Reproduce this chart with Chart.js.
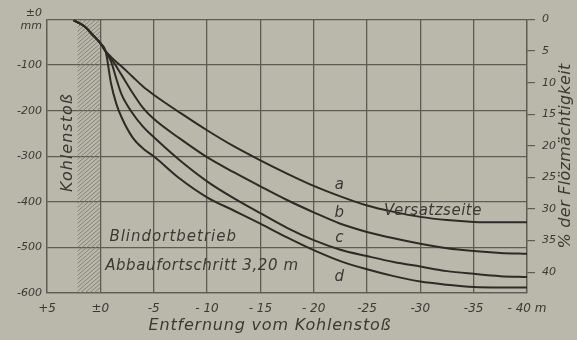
<!DOCTYPE html>
<html>
<head>
<meta charset="utf-8">
<script src="https://cdn.jsdelivr.net/npm/chart.js@4.4.0/dist/chart.umd.min.js"></script>
<style>
  html, body { margin: 0; padding: 0; background: #bab8aa; }
  canvas { display: block; }
</style>
</head>
<body>
<canvas id="chart" width="577" height="340"></canvas>
<script>
// Entfernung vom Kohlenstoß (m), shared by all four curves
const distances = [2.5, 1.5, 0.75, 0, -0.5, -1, -1.5, -2, -3, -4, -5, -7.5, -10, -12.5, -15, -17.5, -20, -22.5, -25, -27.5, -30, -32.5, -35, -37.5, -40];

// Senkung in mm
const curveA = [-2, -15, -33, -52, -70, -82, -93, -103, -125, -147, -165, -205, -243, -278, -309, -338, -365, -388, -408, -422, -433, -440, -444, -445, -445];
const curveB = [-2, -15, -33, -52, -70, -85, -103, -122, -160, -194, -218, -262, -302, -335, -366, -396, -423, -448, -466, -480, -492, -502, -508, -512, -514];
const curveC = [-2, -15, -33, -52, -70, -92, -130, -165, -205, -235, -258, -310, -355, -392, -425, -457, -484, -505, -519, -532, -542, -552, -558, -563, -565];
const curveD = [-2, -15, -33, -52, -70, -140, -185, -215, -258, -283, -300, -350, -390, -419, -448, -478, -506, -530, -548, -563, -575, -582, -587, -588, -588];

const curveNames = ['a', 'b', 'c', 'd'];

const xTickValues = [5, 0, -5, -10, -15, -20, -25, -30, -35, -40];
const xTickLabels = ['+5', '±0', '-5', '- 10', '- 15', '- 20', '-25', '-30', '-35', '- 40 m'];
const yTickValues = [0, -100, -200, -300, -400, -500, -600];
const yTickLabels = [['±0', 'mm'], '-100', '-200', '-300', '-400', '-500', '-600'];
const pctTickValues = [0, 5, 10, 15, 20, 25, 30, 35, 40];

const ink = '#2c2b26';
const gridInk = '#5e5d54';
const textInk = '#3a3934';
const fontFamily = '"DejaVu Sans", sans-serif';

const allCurves = [curveA, curveB, curveC, curveD];

// hatched strip for the coal face between +2.15 m and ±0
const hatchPlugin = {
    id: 'hatch',
    beforeDatasetsDraw(chart) {
        const { ctx, chartArea, scales } = chart;
        const x1 = scales.x.getPixelForValue(2.15);
        const x2 = scales.x.getPixelForValue(0);
        ctx.save();
        ctx.beginPath();
        ctx.rect(x1, chartArea.top, x2 - x1, chartArea.bottom - chartArea.top);
        ctx.clip();
        ctx.strokeStyle = '#7d7c72';
        ctx.lineWidth = 0.9;
        for (let y = chartArea.top - 40; y < chartArea.bottom + 40; y += 4) {
            ctx.beginPath();
            ctx.moveTo(x1, y + 20);
            ctx.lineTo(x2, y);
            ctx.stroke();
        }
        ctx.restore();
    }
};

function text(ctx, str, x, y, size, spacing) {
    ctx.font = 'italic ' + size + 'px ' + fontFamily;
    ctx.letterSpacing = spacing + 'px';
    ctx.fillText(str, x, y);
}

const labelPlugin = {
    id: 'labels',
    afterDraw(chart) {
        const { ctx, scales } = chart;
        const px = v => scales.x.getPixelForValue(v);
        const py = v => scales.y.getPixelForValue(v);
        ctx.save();
        ctx.fillStyle = textInk;
        ctx.textBaseline = 'middle';

        ctx.textAlign = 'center';
        const nameY = [-363, -424, -479, -565];
        curveNames.forEach((n, i) => text(ctx, n, px(-22.4), py(nameY[i]), 15, 0));

        ctx.textAlign = 'left';
        text(ctx, 'Versatzseite', px(-26.6), py(-420), 15, 0.5);
        text(ctx, 'Blindortbetrieb', px(-0.85), py(-477), 15, 1);
        text(ctx, 'Abbaufortschritt 3,20 m', px(-0.45), py(-541), 15, 0.6);

        ctx.textAlign = 'center';
        text(ctx, 'Entfernung vom Kohlenstoß', 270, 326, 16, 0.8);

        ctx.save();
        ctx.translate(px(3.0), py(-270));
        ctx.rotate(-Math.PI / 2);
        text(ctx, 'Kohlenstoß', 0, 0, 16, 1);
        ctx.restore();

        ctx.save();
        ctx.translate(566, 156);
        ctx.rotate(-Math.PI / 2);
        text(ctx, '% der Flözmächtigkeit', 0, 0, 16, 0.3);
        ctx.restore();

        ctx.restore();
    }
};

const ctx = document.getElementById('chart');

new Chart(ctx, {
    type: 'line',
    data: {
        datasets: allCurves.map((curve, i) => ({
            label: curveNames[i],
            data: distances.map((d, k) => ({ x: d, y: curve[k] })),
            borderColor: ink,
            borderWidth: 2,
            fill: false,
            pointRadius: 0,
            cubicInterpolationMode: 'monotone'
        }))
    },
    options: {
        responsive: false,
        animation: false,
        layout: { padding: { top: 19.5, left: 0, right: 0, bottom: 0 } },
        plugins: { legend: { display: false }, tooltip: { enabled: false } },
        scales: {
            x: {
                type: 'linear',
                reverse: true,
                min: -40,
                max: 5,
                afterBuildTicks: s => { s.ticks = xTickValues.map(v => ({ value: v })); },
                afterFit: s => { s.height = 47; },
                ticks: {
                    callback: v => xTickLabels[xTickValues.indexOf(v)],
                    color: textInk,
                    font: { family: fontFamily, size: 12, style: 'italic' },
                    padding: 9,
                    maxRotation: 0
                },
                grid: { color: gridInk, lineWidth: 1.3, drawTicks: false },
                border: { color: gridInk, width: 1.3 }
            },
            y: {
                type: 'linear',
                position: 'left',
                min: -600,
                max: 0,
                afterBuildTicks: s => { s.ticks = yTickValues.map(v => ({ value: v })); },
                afterFit: s => { s.width = 47; },
                ticks: {
                    callback: v => yTickLabels[yTickValues.indexOf(v)],
                    color: textInk,
                    font: { family: fontFamily, size: 11, style: 'italic' },
                    padding: 5
                },
                grid: { color: gridInk, lineWidth: 1.3, drawTicks: false },
                border: { color: gridInk, width: 1.3 }
            },
            y2: {
                type: 'linear',
                position: 'right',
                reverse: true,
                min: 0,
                max: 43.3,
                afterBuildTicks: s => { s.ticks = pctTickValues.map(v => ({ value: v })); },
                afterFit: s => { s.width = 50; },
                ticks: {
                    color: textInk,
                    font: { family: fontFamily, size: 11, style: 'italic' },
                    padding: 7,
                    crossAlign: 'near'
                },
                grid: { drawOnChartArea: false, color: gridInk, tickLength: 8, lineWidth: 1.2 },
                border: { color: gridInk, width: 1.3 }
            }
        }
    },
    plugins: [hatchPlugin, labelPlugin]
});
</script>
</body>
</html>
